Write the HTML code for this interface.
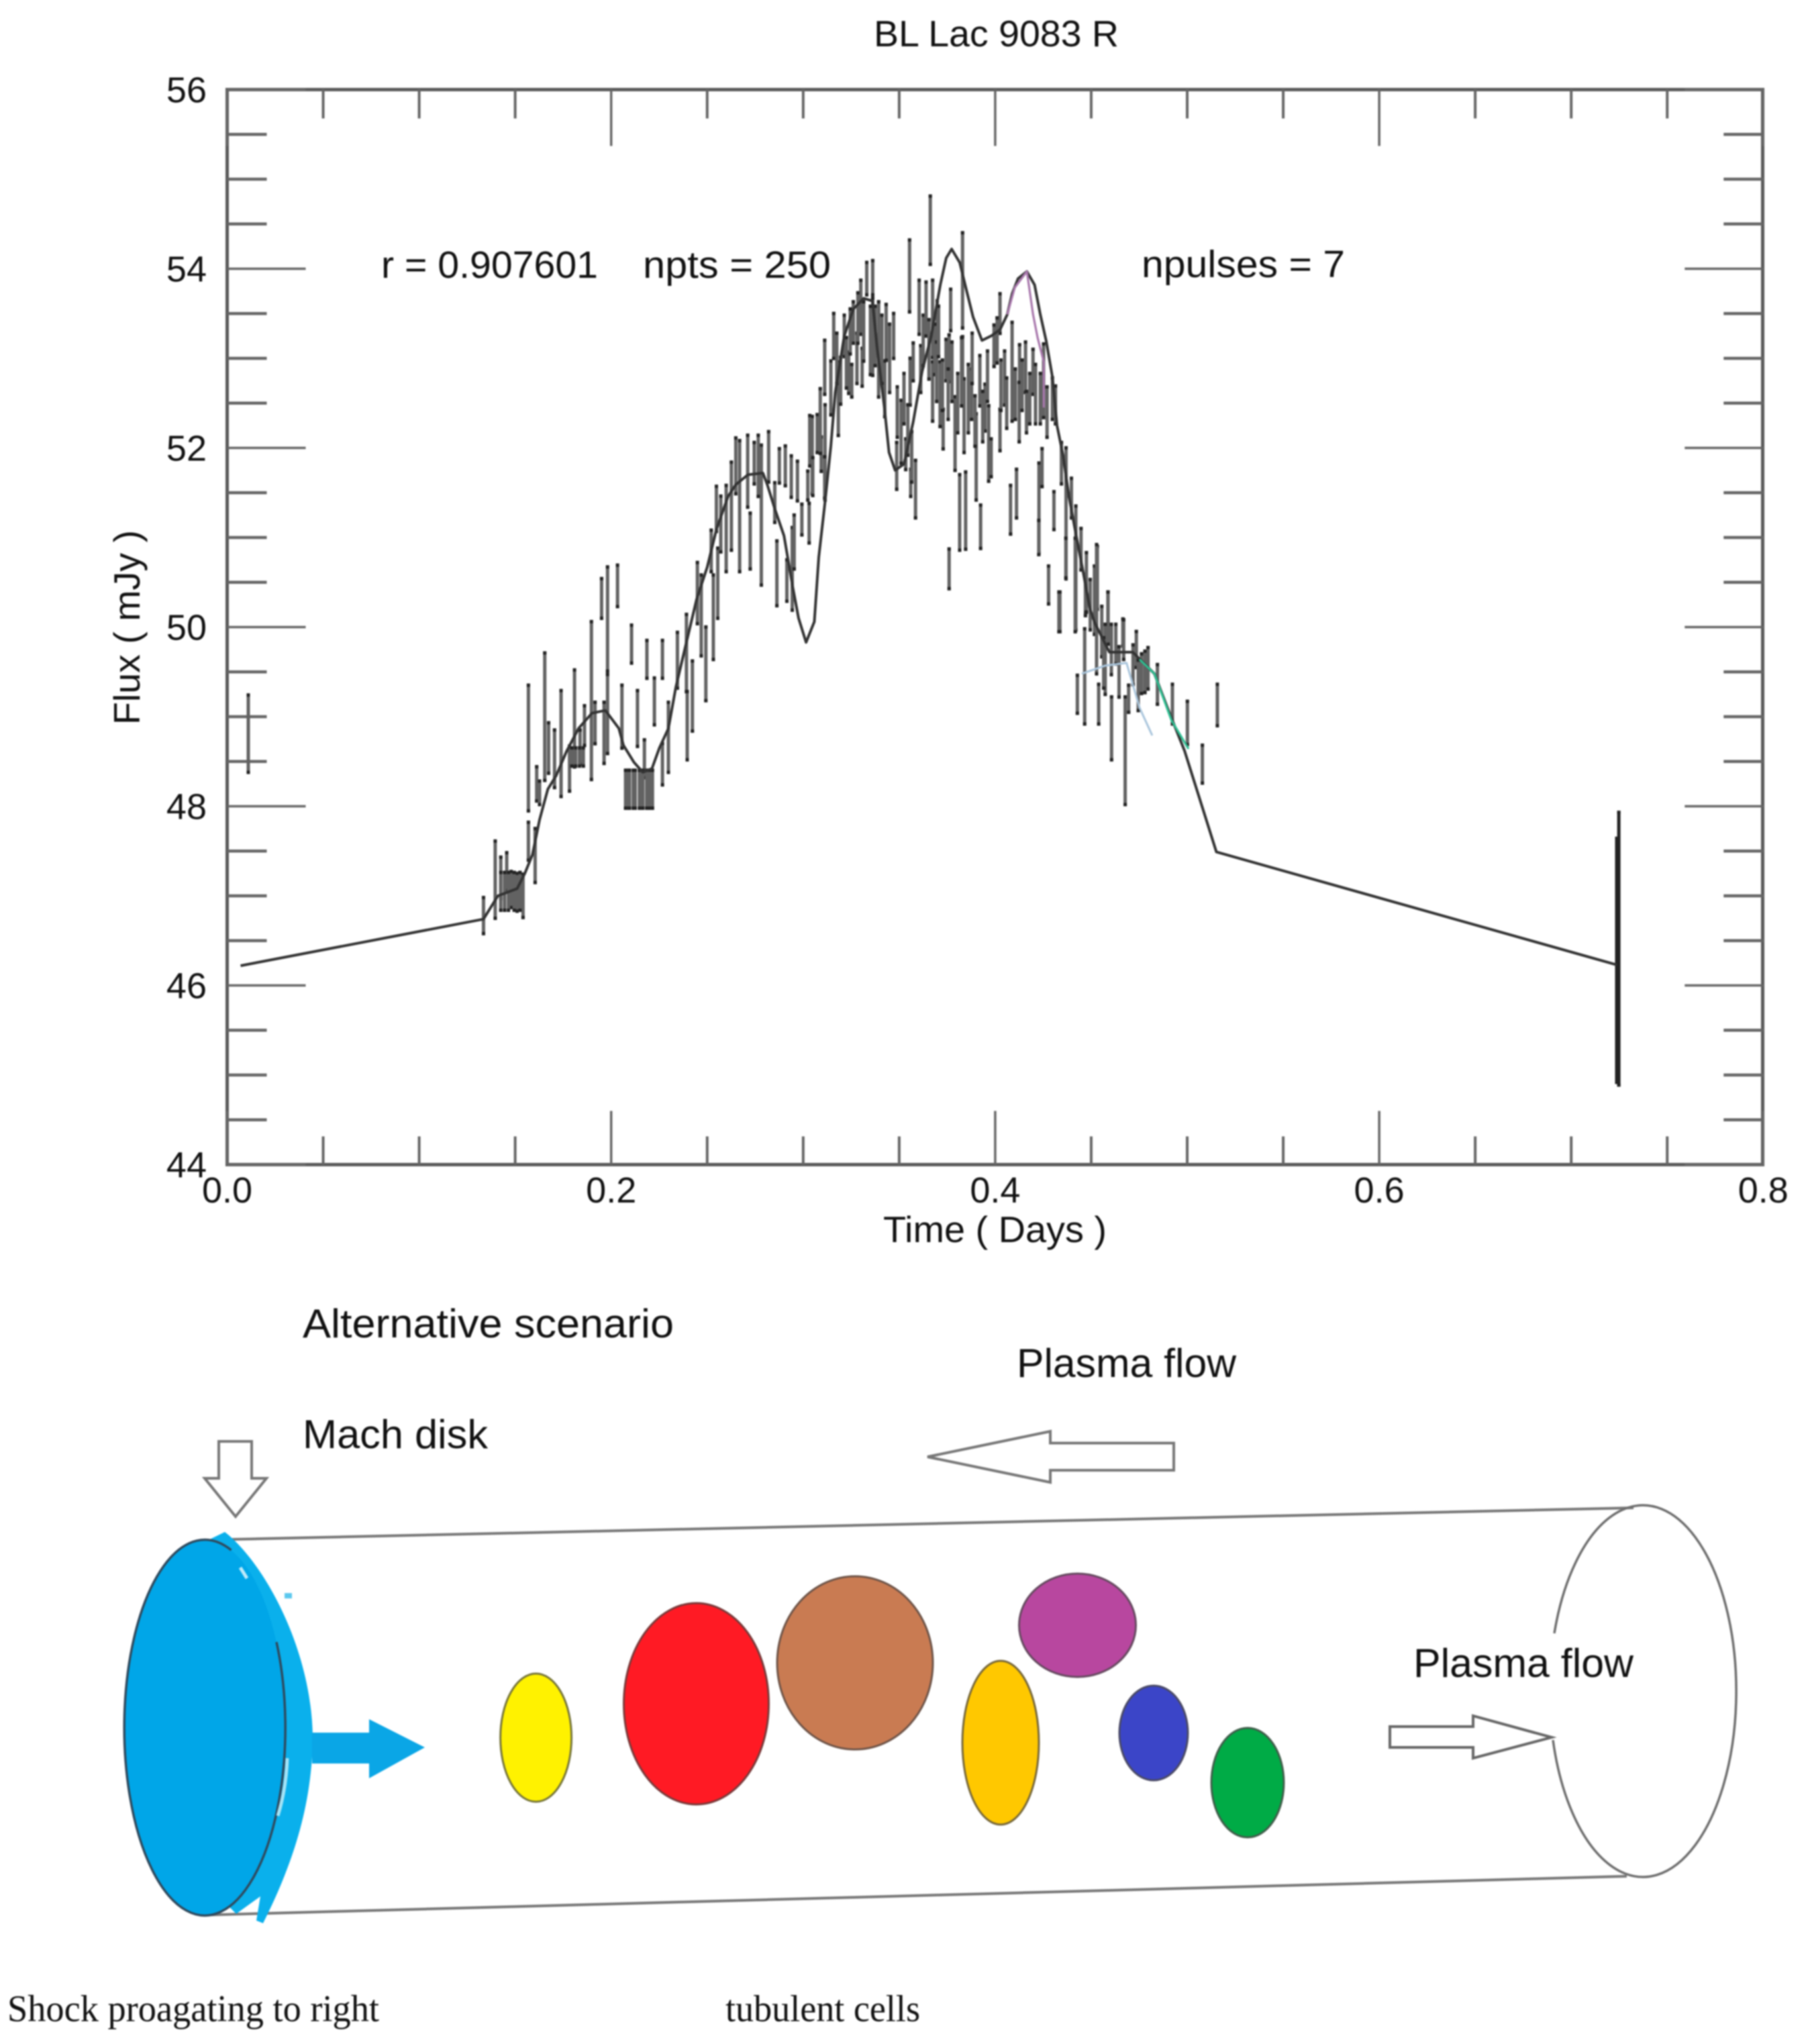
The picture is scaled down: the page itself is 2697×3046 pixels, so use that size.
<!DOCTYPE html>
<html>
<head>
<meta charset="utf-8">
<title>BL Lac 9083 R</title>
<style>
html,body{margin:0;padding:0;background:#fff;}
#figure{display:block;width:2697px;height:3046px;filter:blur(1.1px);}
.sans{font-family:"Liberation Sans",sans-serif;fill:#111;}
.serif{font-family:"Liberation Serif",serif;fill:#111;}
</style>
</head>
<body>
<svg id="figure" xmlns="http://www.w3.org/2000/svg" width="2697" height="3046" viewBox="0 0 2697 3046">
  <rect x="0" y="0" width="2697" height="3046" fill="#fff"/>

  <g id="chart">
    <text class="sans" x="1302" y="69" font-size="55" textLength="365" lengthAdjust="spacingAndGlyphs">BL Lac 9083 R</text>
    <rect x="338.5" y="133.5" width="2288" height="1602" fill="none" stroke="#5a5a5a" stroke-width="5"/>
    <g id="ticks"></g>
    <g id="tick-labels"></g>
    <text class="sans" x="568" y="414" font-size="57" textLength="323" lengthAdjust="spacingAndGlyphs">r = 0.907601</text>
    <text class="sans" x="958" y="414" font-size="57" textLength="280" lengthAdjust="spacingAndGlyphs">npts = 250</text>
    <text class="sans" x="1701" y="413" font-size="57" textLength="303" lengthAdjust="spacingAndGlyphs">npulses = 7</text>
    <text class="sans" x="1316" y="1851" font-size="55" textLength="333" lengthAdjust="spacingAndGlyphs">Time ( Days )</text>
    <text class="sans" transform="translate(208,1080) rotate(-90)" x="0" y="0" font-size="55" textLength="290" lengthAdjust="spacingAndGlyphs">Flux ( mJy )</text>
    <g id="error-bars"></g>
    <g id="model-lines"></g>
  </g>

  <g id="diagram">
    <text class="sans" x="451" y="1993" font-size="60" textLength="553" lengthAdjust="spacingAndGlyphs">Alternative scenario</text>
    <text class="sans" x="451" y="2158" font-size="60" textLength="276" lengthAdjust="spacingAndGlyphs">Mach disk</text>
    <text class="sans" x="1515" y="2052" font-size="60" textLength="327" lengthAdjust="spacingAndGlyphs">Plasma flow</text>
    <text class="sans" x="2106" y="2499" font-size="60" textLength="328" lengthAdjust="spacingAndGlyphs">Plasma flow</text>
    <text class="serif" x="11" y="3012" font-size="56" textLength="554" lengthAdjust="spacingAndGlyphs">Shock proagating to right</text>
    <text class="serif" x="1081" y="3012" font-size="56" textLength="290" lengthAdjust="spacingAndGlyphs">tubulent cells</text>

    <polygon points="326,2148 375,2148 375,2203 397,2203 351,2260 305,2203 326,2203" fill="#fff" stroke="#777" stroke-width="4"/>
    <polygon points="1382,2171 1565,2133 1565,2150.5 1749,2150.5 1749,2191 1565,2191 1565,2209" fill="#fff" stroke="#777" stroke-width="4"/>
    <polygon points="2071,2573 2195,2573 2195,2557 2312,2589 2195,2620 2195,2604 2071,2604" fill="#fff" stroke="#666" stroke-width="4"/>

    <line x1="345" y1="2294" x2="2434" y2="2247" stroke="#777" stroke-width="4"/>
    <line x1="299" y1="2854" x2="2424" y2="2796" stroke="#777" stroke-width="4"/>
    <path d="M2316,2434 A139,277 0 1 1 2314,2593" fill="none" stroke="#6e6e6e" stroke-width="3.5"/>

    <path d="M335,2283 C395,2330 465,2460 466,2590 C465,2700 430,2790 392,2866 L382,2862 L388,2826 L352,2852 L300,2800 L300,2300 Z" fill="#0ab0ec"/>
    <rect x="424" y="2374" width="11" height="8" fill="#5cc8ee"/>
    <ellipse cx="305" cy="2574.5" rx="120" ry="280" fill="#00a6e8"/>
    <path d="M412,2447 A120,280 0 1 1 344.5,2310" fill="none" stroke="#2f4a5e" stroke-width="3.5"/>
    <path d="M428,2620 C427,2650 422,2680 414,2706" fill="none" stroke="#a5e3f6" stroke-width="5"/>
    <path d="M358,2336 L368,2352" fill="none" stroke="#bfeafa" stroke-width="5"/>
    <polygon points="465,2582 550,2582 550,2562 633,2604 550,2650 550,2628 465,2628" fill="#0aa6e6"/>

    <ellipse cx="798.6" cy="2589.5" rx="53" ry="95.5" fill="#fff200" stroke="#77763a" stroke-width="3"/>
    <ellipse cx="1037.5" cy="2539" rx="108" ry="150" fill="#ff1a24" stroke="#7a3a3a" stroke-width="3"/>
    <ellipse cx="1274" cy="2478" rx="116" ry="129" fill="#c97b52" stroke="#6e5448" stroke-width="3"/>
    <ellipse cx="1491" cy="2597" rx="57" ry="122" fill="#ffc800" stroke="#77683a" stroke-width="3"/>
    <ellipse cx="1605.5" cy="2422" rx="87" ry="77" fill="#b8479f" stroke="#664a60" stroke-width="3"/>
    <ellipse cx="1719" cy="2582.5" rx="51" ry="70.5" fill="#3b45c8" stroke="#4a4a66" stroke-width="3"/>
    <ellipse cx="1859" cy="2656.5" rx="54" ry="81.5" fill="#00ab46" stroke="#3f5e4a" stroke-width="3"/>
  </g>
</svg>

<script>
var xMajorValues = [0.0, 0.2, 0.4, 0.6, 0.8];
var xMajorLabels = ["0.0", "0.2", "0.4", "0.6", "0.8"];
var xMinorValues = [0.05, 0.1, 0.15, 0.25, 0.3, 0.35, 0.45, 0.5, 0.55, 0.65, 0.7, 0.75];
var yMajorValues = [44, 46, 48, 50, 52, 54, 56];
var yMajorLabels = ["44", "46", "48", "50", "52", "54", "56"];
var yMinorValues = [44.5, 45, 45.5, 46.5, 47, 47.5, 48.5, 49, 49.5, 50.5, 51, 51.5, 52.5, 53, 53.5, 54.5, 55, 55.5];

var times = [
0.011,
.1335,.1396,.1425,.1456,.1479,.151,.1541,.1569,.1569,.1604,
.1612,.1627,.1654,.1674,.1705,.1739,.1783,.1809,.1838,.1861,
.1897,.1916,.195,.1981,.1981,.1963,.2033,.2056,.2106,.2088,
.2137,.2147,.2186,.2173,.2205,.2225,.2267,.2267,.2298,.2345,
.2392,.2396,.2423,.2449,.2469,.2493,.2521,.2532,.2555,.2548,
.2571,.2599,.2626,.2669,.2649,.2711,.2724,.2745,.2782,.2766,
.282,.2852,.2863,.2876,.2907,.2915,.2938,.2943,.297,.2953,
.2993,.3024,.3031,.3047,.3073,.3094,.3114,
.3034,.305,.3089,.3112,.3112,.3159,.3144,.3183,.3214,.3237,
.3253,.3261,.33,.3307,.3331,.3362,.3362,.3393,.3432,.3425,
.3471,.3487,.351,.3534,.3554,.3557,.356,.3585,.3573,.3604,
.3612,.3662,.3674,.3674,.3698,.3729,.3713,.3744,.3768,.376,
.376,.3791,.3815,.383,.383,.3846,.3838,.3877,.3901,.3924,
.3947,.3966,.3979,.3994,.4025,.4025,.4049,.408,.4088,.4111,
.4127,.4158,.4163,.4197,.4228,.4244,.4252,.4278,.4306,.4298,
.4314,.4337,.4345,.4369,.4397,.442,.4447,.447,.4517,.4532,
.4587,.4665,
.4227,.4332,.4368,.4417,.4428,.4466,.4472,.4528,.4539,.4588,
.4606,.4573,.4628,.4669,.4677,.4695,.4718,.4762,.4796,.4845,
.4923,.5001,.5079,.5157,.7248,.7237,
.3175,.3195,.3225,.3245,.328,.3285,.3315,.335,.3375,.341,
.345,.349,.3525,.3545,.3565,.3625,.364,.3655,.3685,.3695,
.3705,.3725,.3755,.3775,.3805,.3825,.386,.388,.3895,.392,
.3935,.396,.401,.403,.406,.4105,.4125,.414,.418,.421,
.4235,.427,.4475,.4495,.4555,.4565,.4605,.4645,.4735,.4745,
.478,
.2075,.2095,.2115,.2125,.2155,.2165,.2185,.2195,.2215,
.1425,.1445,.1465,.1495,.1525,
.1795,.1815,.1835,.1855
];
var fluxes = [
48.81,
46.78,47.18,47.2,47.27,47.07,47.04,47.0,48.65,47.61,47.45,
48.25,48.15,49.0,48.65,48.53,48.7,48.42,48.98,48.66,48.9,
49.18,48.93,50.32,50.09,49.03,48.82,50.46,49.0,49.81,48.19,
48.98,48.19,49.64,48.53,48.19,49.17,49.64,48.47,48.77,49.63,
49.71,48.9,49.23,50.38,50.13,49.59,50.85,50.11,50.49,51.32,
51.15,51.1,51.35,51.35,51.8,51.74,50.96,51.83,51.25,51.8,
51.9,51.39,50.6,51.8,51.8,50.52,51.68,50.65,51.63,50.95,
51.2,51.58,51.16,51.92,52.16,51.93,51.95,
52.08,51.68,52.3,52.9,51.67,53.25,52.67,52.55,53.25,52.84,
52.75,53.4,53.57,52.9,53.89,53.9,53.24,53.1,53.29,52.66,
53.25,51.8,52.18,51.93,53.92,52.74,51.61,51.54,52.96,53.57,
52.88,54.43,53.44,52.63,53.39,52.21,52.6,52.98,53.54,53.0,
50.65,52.16,51.28,53.87,52.99,51.3,52.36,52.6,51.9,51.12,
52.45,52.05,51.89,53.14,53.5,52.2,52.78,51.31,52.85,51.49,
52.9,52.9,52.4,52.85,51.33,51.78,52.75,50.47,51.3,52.55,
52.48,50.17,51.83,51.27,51.44,50.66,50.87,50.36,50.3,50.55,
50.16,49.94,
51.0,50.17,50.77,50.47,49.25,49.45,50.37,50.2,49.14,50.1,
48.87,49.64,49.81,49.86,48.62,49.2,49.58,49.48,49.54,49.36,
49.14,48.93,48.47,49.13,46.41,46.28,
53.0,52.75,52.95,53.3,53.0,53.45,53.3,53.2,53.25,53.1,
53.0,52.4,52.55,52.2,51.9,53.2,53.55,53.1,53.1,52.85,
53.3,52.7,52.6,52.85,52.5,52.85,52.55,53.0,52.3,52.75,
52.35,52.8,53.2,52.7,52.5,52.6,52.4,52.7,52.55,52.6,
52.55,52.4,50.5,50.25,49.95,49.6,49.75,49.5,49.75,49.35,
49.5,
48.19,48.19,48.19,48.19,48.19,48.19,48.19,48.19,48.19,
47.05,47.05,47.05,47.05,47.05,
48.55,48.55,48.55,48.55
];
var errors = [
.45,
.22,.45,.25,.23,.22,.23,.26,.72,.23,.32,
.21,.15,.73,.3,.34,.61,.27,.56,.21,.24,
.9,.25,.24,.6,.46,.36,.25,.37,.23,.23,
.33,.23,.23,.23,.23,.28,.23,.25,.41,.33,
.45,.4,.41,.36,.47,.43,.25,.49,.41,.27,
.33,.5,.51,.75,.33,.42,.33,.25,.8,.36,
.3,.24,.38,.21,.24,.25,.25,.48,.24,.32,
.19,.18,.24,.45,.23,.21,.55,
.3,.23,.38,.32,.25,.27,.32,.43,.25,.25,
.2,.25,.32,.23,.2,.21,.45,.55,.33,.33,
.27,.28,.37,.19,.42,.28,.17,.34,.23,.32,
.28,.4,.45,.35,.27,.24,.38,.25,.25,.28,
.24,.43,.44,.55,.27,.45,.43,.3,.5,.26,
.28,.44,.23,.25,.24,.25,.32,.29,.57,.29,
.27,.3,.25,.27,.52,.23,.43,.23,.23,.25,
.23,.24,.25,.75,.24,.71,.25,.25,.4,.37,
.25,.17,
.21,.24,.24,.54,.23,.55,.23,.74,.24,.31,
.37,.41,.24,.24,.62,.17,.24,.24,.25,.24,
.24,.26,.23,.25,1.54,1.38,
.3,.28,.3,.27,.3,.3,.35,.4,.35,.4,
.4,.3,.3,.3,.3,.3,.32,.35,.3,.35,
.3,.3,.3,.35,.35,.4,.4,.3,.3,.3,
.3,.3,.27,.3,.3,.3,.35,.3,.3,.35,
.3,.3,.35,.3,.3,.3,.3,.3,.22,.3,
.25,
.23,.23,.23,.23,.23,.23,.23,.23,.23,
.23,.23,.23,.23,.23,
.12,.12,.12,.12
];

var modelTimes = [.007,.1335,.141,.151,.155,.159,.1627,.167,.1713,.1767,.183,.19,.197,.204,.2064,.2119,.2165,.2212,.2251,.2298,.2337,.2384,.2445,.25,.2548,.2609,.2649,.2712,.279,.2813,.2852,.29,.2946,.2976,.3015,.3058,.3081,.3113,.3144,.3167,.3214,.3261,.3315,.3361,.3385,.3423,.3447,.3479,.3525,.3573,.3619,.3667,.3714,.3745,.3773,.3815,.3847,.3885,.3931,.3979,.4025,.4063,.4088,.4119,.4165,.4205,.4235,.4266,.4298,.4322,.4353,.4385,.4423,.4455,.4493,.4518,.4595,.4717,.4829,.4906,.4986,.5152,.7237];
var modelFlux = [46.22,46.74,47.0,47.08,47.25,47.46,47.85,48.19,48.34,48.61,48.87,49.04,49.07,48.87,48.68,48.49,48.38,48.42,48.65,48.87,49.33,49.76,50.31,50.67,51.09,51.46,51.59,51.7,51.72,51.59,51.32,51.02,50.44,50.1,49.83,50.06,50.78,51.38,52.02,52.62,53.25,53.55,53.67,53.64,53.12,52.45,51.95,51.75,51.82,52.29,52.85,53.25,53.82,54.12,54.22,54.07,53.79,53.46,53.2,53.25,53.32,53.49,53.72,53.89,53.97,53.82,53.49,53.19,52.79,52.25,51.92,51.45,51.01,50.65,50.21,50.05,49.72,49.72,49.48,49.05,48.62,47.49,46.23];
var purplePulseTimes = [.4063,.4102,.4165,.4197,.4221,.4253,.4253];
var purplePulseFlux = [53.49,53.79,53.97,53.49,53.23,52.96,52.45];
var greenPulseTimes = [.4752,.4829,.4918,.5007];
var greenPulseFlux = [49.64,49.48,48.96,48.64];
var bluePulseTimes = [.4451,.4573,.4684,.4752,.4818];
var bluePulseFlux = [49.48,49.57,49.6,49.1,48.79];

var SVGNS = "http://www.w3.org/2000/svg";
function xScale(t) { return 338.5 + 2861 * t; }
function yScale(f) { return 1735.5 - 133.5 * (f - 44); }
function makeSvg(tag) { return document.createElementNS(SVGNS, tag); }
function makeTick(parent, x1, y1, x2, y2, width) {
  var tick = makeSvg("line");
  tick.setAttribute("x1", x1);
  tick.setAttribute("y1", y1);
  tick.setAttribute("x2", x2);
  tick.setAttribute("y2", y2);
  tick.setAttribute("stroke", "#666");
  tick.setAttribute("stroke-width", width);
  
  
  parent.appendChild(tick);
}
function makeLabel(parent, x, y, text, anchor, name) {
  var label = makeSvg("text");
  label.setAttribute("class", "sans");
  label.setAttribute("x", x);
  label.setAttribute("y", y);
  label.setAttribute("font-size", "54");
  label.setAttribute("text-anchor", anchor);
  label.textContent = text;
  
  
  parent.appendChild(label);
}
function makeLine(parent, ts, fs, color, width, name) {
  var pts = [];
  for (var i = 0; i < ts.length; i++) {
    pts.push(xScale(ts[i]).toFixed(1) + "," + yScale(fs[i]).toFixed(1));
  }
  var line = makeSvg("polyline");
  line.setAttribute("points", pts.join(" "));
  line.setAttribute("fill", "none");
  line.setAttribute("stroke", color);
  line.setAttribute("stroke-width", width);
  line.setAttribute("stroke-linejoin", "round");
  
  
  parent.appendChild(line);
}

var tickGroup = document.getElementById("ticks");
var labelGroup = document.getElementById("tick-labels");
var plotLeft = xScale(0), plotRight = xScale(0.8), plotTop = yScale(56), plotBottom = yScale(44);

xMajorValues.forEach(function (v, i) {
  var x = xScale(v);
  makeTick(tickGroup, x, plotBottom, x, plotBottom - 80, 3.5);
  makeTick(tickGroup, x, plotTop, x, plotTop + 84, 3.5);
  makeLabel(labelGroup, x, 1792, xMajorLabels[i], "middle", "x-tick-label");
});
xMinorValues.forEach(function (v) {
  var x = xScale(v);
  makeTick(tickGroup, x, plotBottom, x, plotBottom - 42, 4);
  makeTick(tickGroup, x, plotTop, x, plotTop + 43, 4);
});
yMajorValues.forEach(function (v, i) {
  var y = yScale(v);
  makeTick(tickGroup, plotLeft, y, plotLeft + 117, y, 3.5);
  makeTick(tickGroup, plotRight, y, plotRight - 117, y, 3.5);
  makeLabel(labelGroup, 308, y + 19, yMajorLabels[i], "end", "y-tick-label");
});
yMinorValues.forEach(function (v) {
  var y = yScale(v);
  makeTick(tickGroup, plotLeft, y, plotLeft + 59, y, 4.5);
  makeTick(tickGroup, plotRight, y, plotRight - 59, y, 4.5);
});

var barGroup = document.getElementById("error-bars");
times.forEach(function (t, i) {
  var x = xScale(t);
  var yTop = yScale(fluxes[i] + errors[i]);
  var yBottom = yScale(fluxes[i] - errors[i]);
  var length = yBottom - yTop;
  var bar = makeSvg("line");
  bar.setAttribute("x1", x);
  bar.setAttribute("x2", x);
  bar.setAttribute("y1", yTop);
  bar.setAttribute("y2", yBottom);
  bar.setAttribute("stroke", errors[i] > 1 ? "#222" : "#626262");
  bar.setAttribute("stroke-width", 5);
  
  
  barGroup.appendChild(bar);
  var caps = makeSvg("line");
  caps.setAttribute("x1", x);
  caps.setAttribute("x2", x);
  caps.setAttribute("y1", yTop);
  caps.setAttribute("y2", yBottom);
  caps.setAttribute("stroke", "#222");
  caps.setAttribute("stroke-width", 5);
  caps.setAttribute("stroke-dasharray", "5 " + Math.max(0, length - 10) + " 5");
  
  
  barGroup.appendChild(caps);
});

var lineGroup = document.getElementById("model-lines");
makeLine(lineGroup, bluePulseTimes, bluePulseFlux, "#a9c5dc", 3, "blue-pulse-line");
makeLine(lineGroup, modelTimes, modelFlux, "#333", 4, "model-fit-line");
makeLine(lineGroup, purplePulseTimes, purplePulseFlux, "#a877ac", 3.2, "purple-pulse-line");
makeLine(lineGroup, greenPulseTimes, greenPulseFlux, "#2fbf92", 3.2, "green-pulse-line");
</script>
</body>
</html>
